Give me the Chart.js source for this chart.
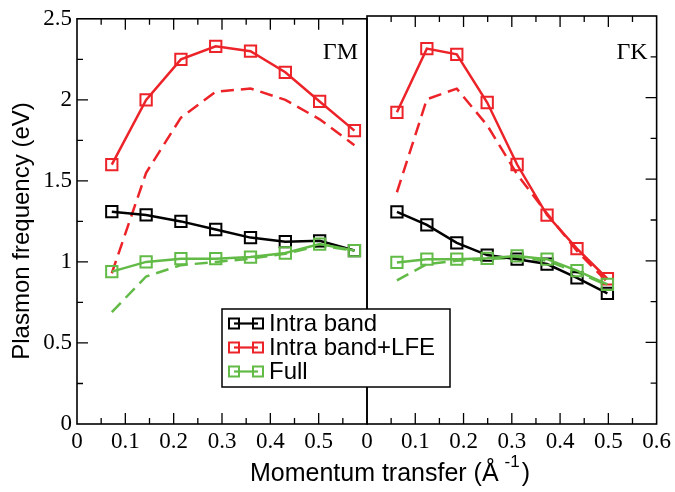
<!DOCTYPE html>
<html>
<head>
<meta charset="utf-8">
<script src="https://cdn.jsdelivr.net/npm/chart.js@4.4.0/dist/chart.umd.min.js"></script>
<style>
  body { margin: 0; background: #fff; }
  #wrap { position: relative; width: 675px; height: 492px; }
  #wrap canvas { position: absolute; left: 0; top: 0; }
</style>
</head>
<body>
<div id="wrap">
  <canvas id="gm" width="675" height="492"></canvas>
  <canvas id="gk" width="675" height="492"></canvas>
</div>
<script>
// momentum transfer (1/A) for the two directions
const qGM = [0.072, 0.143, 0.215, 0.287, 0.359, 0.431, 0.502, 0.574];
const qGK = [0.062, 0.124, 0.186, 0.249, 0.311, 0.373, 0.435, 0.498];

// Gamma-M
const intraGM = [1.31, 1.29, 1.25, 1.20, 1.15, 1.125, 1.13, 1.07];
const lfeGM = [1.60, 2.00, 2.25, 2.33, 2.30, 2.17, 1.99, 1.81];
const fullGM = [0.94, 1.00, 1.02, 1.02, 1.03, 1.055, 1.11, 1.07];
const lfeDashGM = [0.93, 1.55, 1.89, 2.05, 2.07, 2.00, 1.88, 1.72];
const fullDashGM = [0.69, 0.91, 0.98, 1.00, 1.02, 1.05, 1.10, 1.07];

// Gamma-K
const intraGK = [1.30, 1.22, 1.11, 1.035, 1.01, 0.98, 0.895, 0.80];
const lfeGK = [1.91, 2.30, 2.265, 1.97, 1.59, 1.28, 1.075, 0.89];
const fullGK = [0.99, 1.01, 1.01, 1.015, 1.03, 1.01, 0.94, 0.855];
const lfeDashGK = [1.42, 1.99, 2.055, 1.83, 1.53, 1.29, 1.06, 0.87];
const fullDashGK = [0.88, 0.98, 1.00, 1.01, 1.02, 1.00, 0.93, 0.85];

const xTicks = [0, 0.1, 0.2, 0.3, 0.4, 0.5, 0.6];
const yTicks = [0, 0.5, 1, 1.5, 2, 2.5];
const legendLabels = ["Intra band", "Intra band+LFE", "Full"];

const BLACK = "#000000";
const RED = "#ec2328";
const GREEN = "#62ba47";
const SANS = '"Liberation Sans", Arial, sans-serif';
const SERIF = '"Liberation Serif", "Times New Roman", serif';

Chart.defaults.color = "#000";

function pts(xs, ys) {
  return xs.map((x, i) => ({ x: x, y: ys[i] }));
}

function solid(data, color) {
  return {
    data: data,
    borderColor: color,
    borderWidth: 2.5,
    pointStyle: "rect",
    pointRadius: 8,
    pointBorderWidth: 2,
    pointBorderColor: color,
    pointBackgroundColor: "rgba(0,0,0,0)",
    tension: 0,
  };
}

function dashed(data, color) {
  return {
    data: data,
    borderColor: color,
    borderWidth: 2.5,
    borderDash: [13, 7],
    pointRadius: 0,
    tension: 0,
  };
}

// frame + inward ticks, drawn on top of the plot
function framePlugin(ySide, label) {
  return {
    id: "frame",
    afterDraw(chart) {
      const { ctx, chartArea: a, scales } = chart;
      const x = scales.x, y = scales.y;
      ctx.save();
      ctx.strokeStyle = "#000";
      ctx.lineWidth = 1.6;
      ctx.strokeRect(a.left, a.top, a.right - a.left, a.bottom - a.top);
      ctx.lineWidth = 1.3;
      ctx.beginPath();
      for (let i = 1; i < 12; i++) {
        const px = x.getPixelForValue(i * 0.05);
        const len = i % 2 ? 6 : 11;
        ctx.moveTo(px, a.bottom);
        ctx.lineTo(px, a.bottom - len);
        ctx.moveTo(px, a.top);
        ctx.lineTo(px, a.top + len);
      }
      const ex = ySide === "left" ? a.left : a.right;
      const d = ySide === "left" ? 1 : -1;
      for (let i = 1; i < 10; i++) {
        const py = y.getPixelForValue(i * 0.25);
        const len = i % 2 ? 6 : 11;
        ctx.moveTo(ex, py);
        ctx.lineTo(ex + d * len, py);
      }
      ctx.stroke();

      ctx.fillStyle = "#000";
      ctx.font = "24px " + SERIF;
      ctx.textAlign = "right";
      ctx.textBaseline = "alphabetic";
      ctx.fillText(label, a.right - 9, 59);

      if (ySide === "left") {
        ctx.save();
        ctx.translate(22, 231);
        ctx.rotate(-Math.PI / 2);
        ctx.font = "24px " + SANS;
        ctx.textAlign = "center";
        ctx.textBaseline = "middle";
        ctx.fillText("Plasmon frequency (eV)", 0, 0);
        ctx.restore();
      }
      ctx.restore();
    },
  };
}

// legend and shared x title go on the top canvas
const overlayPlugin = {
  id: "overlay",
  afterDraw(chart) {
    const ctx = chart.ctx;
    const colors = [BLACK, RED, GREEN];
    ctx.save();
    ctx.fillStyle = "#fff";
    ctx.fillRect(222, 309, 228, 78);
    ctx.strokeStyle = "#000";
    ctx.lineWidth = 1.5;
    ctx.strokeRect(222, 309, 228, 78);

    ctx.font = "24px " + SANS;
    ctx.textAlign = "left";
    ctx.textBaseline = "middle";
    legendLabels.forEach((lab, i) => {
      const cy = 323.5 + i * 24;
      ctx.strokeStyle = colors[i];
      ctx.lineWidth = 2.2;
      ctx.beginPath();
      ctx.moveTo(234, cy);
      ctx.lineTo(258, cy);
      ctx.stroke();
      ctx.lineWidth = 2;
      ctx.strokeRect(229, cy - 5, 10, 10);
      ctx.strokeRect(253, cy - 5, 10, 10);
      ctx.fillStyle = "#000";
      ctx.fillText(lab, 269, cy + 1);
    });

    // Momentum transfer (Å^-1)
    const main = "Momentum transfer (Å";
    ctx.textBaseline = "alphabetic";
    ctx.font = "25px " + SANS;
    const w1 = ctx.measureText(main).width;
    const w3 = ctx.measureText(")").width;
    ctx.font = "17px " + SANS;
    const w2 = ctx.measureText("-1").width;
    const total = w1 + 6 + w2 + 2 + w3;
    let x0 = 390 - total / 2;
    ctx.fillStyle = "#000";
    ctx.font = "25px " + SANS;
    ctx.fillText(main, x0, 481);
    ctx.font = "17px " + SANS;
    ctx.fillText("-1", x0 + w1 + 6, 467);
    ctx.font = "25px " + SANS;
    ctx.fillText(")", x0 + w1 + 6 + w2 + 2, 481);
    ctx.restore();
  },
};

function xScale(hideLast) {
  return {
    type: "linear",
    min: 0,
    max: 0.6,
    grid: { display: false, drawTicks: false },
    border: { display: false },
    afterBuildTicks: (s) => {
      s.ticks = xTicks.map((v) => ({ value: v }));
    },
    afterFit: (s) => {
      s.height = 68;
    },
    ticks: {
      padding: 4,
      maxRotation: 0,
      font: { family: SERIF, size: 23 },
      callback: (v) => (hideLast && v >= 0.6 ? "" : String(v)),
    },
  };
}

function yScale(show) {
  return {
    type: "linear",
    min: 0,
    max: 2.5,
    display: show,
    grid: { display: false, drawTicks: false },
    border: { display: false },
    afterBuildTicks: (s) => {
      s.ticks = yTicks.map((v) => ({ value: v }));
    },
    afterFit: (s) => {
      if (show) s.width = 77;
    },
    ticks: {
      padding: 5,
      font: { family: SERIF, size: 23 },
      callback: (v) => String(v),
    },
  };
}

const common = {
  responsive: false,
  animation: false,
  events: [],
  plugins: { legend: { display: false }, tooltip: { enabled: false } },
};

new Chart(document.getElementById("gm"), {
  type: "line",
  data: {
    datasets: [
      solid(pts(qGM, fullGM), GREEN),
      solid(pts(qGM, lfeGM), RED),
      solid(pts(qGM, intraGM), BLACK),
      dashed(pts(qGM, lfeDashGM), RED),
      dashed(pts(qGM, fullDashGM), GREEN),
    ],
  },
  options: Object.assign({}, common, {
    layout: { padding: { left: 0, right: 308, top: 16, bottom: 0 } },
    scales: { x: xScale(true), y: yScale(true) },
  }),
  plugins: [framePlugin("left", "ΓM")],
});

new Chart(document.getElementById("gk"), {
  type: "line",
  data: {
    datasets: [
      solid(pts(qGK, fullGK), GREEN),
      solid(pts(qGK, lfeGK), RED),
      solid(pts(qGK, intraGK), BLACK),
      dashed(pts(qGK, lfeDashGK), RED),
      dashed(pts(qGK, fullDashGK), GREEN),
    ],
  },
  options: Object.assign({}, common, {
    layout: { padding: { left: 367, right: 18, top: 16, bottom: 0 } },
    scales: { x: xScale(false), y: yScale(false) },
  }),
  plugins: [framePlugin("right", "ΓK"), overlayPlugin],
});
</script>
</body>
</html>
